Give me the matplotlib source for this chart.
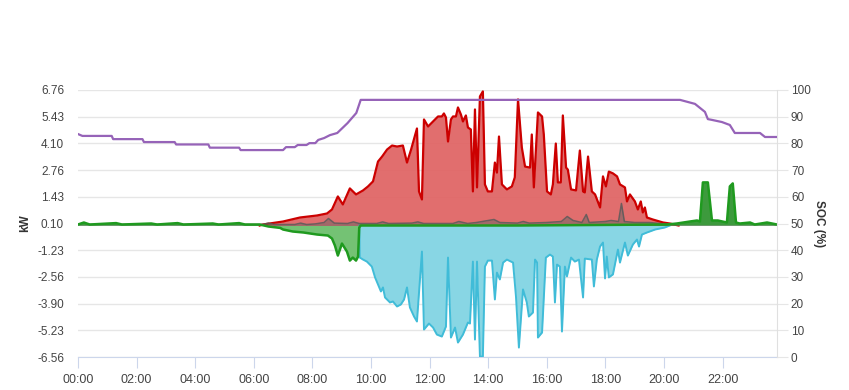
import matplotlib
matplotlib.use("Agg")
import matplotlib.pyplot as plt
import numpy as np

plt.rcParams["font.family"] = ["Liberation Sans", "DejaVu Sans"]

# time in hours of day, power in kW, soc in %
solar_h = [6.2, 6.31, 7.00, 7.58, 8.16, 8.50, 8.67, 8.87, 9.04, 9.28, 9.49, 9.73, 9.90, 10.07, 10.24,
           10.38, 10.55, 10.72, 10.89, 11.09, 11.23, 11.37, 11.57, 11.64, 11.74, 11.81, 11.95, 12.12,
           12.29, 12.42, 12.49, 12.56, 12.63, 12.73, 12.80, 12.90, 12.97, 13.07, 13.14, 13.24, 13.31,
           13.41, 13.48, 13.55, 13.62, 13.72, 13.82, 13.89, 13.99, 14.13, 14.23, 14.30, 14.37, 14.47,
           14.64, 14.81, 14.91, 15.02, 15.15, 15.26, 15.43, 15.49, 15.56, 15.70, 15.84, 15.90, 16.01,
           16.14, 16.21, 16.31, 16.38, 16.48, 16.55, 16.66, 16.72, 16.83, 17.00, 17.13, 17.24, 17.30,
           17.41, 17.54, 17.65, 17.82, 17.92, 18.02, 18.12, 18.26, 18.40, 18.50, 18.67, 18.74, 18.84,
           19.01, 19.11, 19.21, 19.28, 19.35, 19.42, 19.62, 19.97, 20.20, 20.5]
solar_kw = [0.0, 0.05, 0.20, 0.40, 0.50, 0.60, 0.80, 1.45, 1.05, 1.85, 1.55, 1.75, 1.95, 2.20, 3.19,
            3.44, 3.79, 3.99, 3.94, 3.99, 3.14, 3.79, 4.84, 1.70, 1.30, 5.29, 4.94, 5.19,
            5.44, 5.44, 5.59, 5.39, 4.19, 5.29, 5.44, 5.44, 5.89, 5.54, 5.19, 5.49, 4.89,
            4.79, 1.70, 5.79, 1.90, 6.44, 6.69, 2.05, 1.70, 1.70, 3.14, 2.64, 4.44, 2.05,
            1.80, 1.95, 2.40, 6.29, 3.89, 2.94, 2.89, 4.54, 1.90, 5.64, 5.44, 4.54, 1.70,
            1.55, 2.05, 4.09, 2.15, 2.15, 5.49, 2.89, 2.79, 1.80, 1.75, 3.74, 1.70, 1.65,
            3.44, 1.70, 1.55, 0.90, 2.45, 1.95, 2.69, 2.60, 2.45, 2.05, 1.90, 1.20, 1.55,
            1.20, 0.80, 1.20, 0.65, 0.90, 0.40, 0.30, 0.15, 0.10, 0.0]

grid_h = [9.60, 9.62, 9.73, 9.86, 10.03, 10.14, 10.24, 10.34, 10.41, 10.48, 10.65, 10.75, 10.89, 11.02,
          11.13, 11.23, 11.33, 11.47, 11.57, 11.74, 11.81, 11.98, 12.12, 12.25, 12.42, 12.56, 12.63,
          12.73, 12.87, 12.97, 13.14, 13.31, 13.38, 13.48, 13.55, 13.62, 13.72, 13.82, 13.89, 13.99,
          14.13, 14.23, 14.30, 14.40, 14.51, 14.64, 14.85, 14.95, 15.05, 15.19, 15.32, 15.39, 15.53,
          15.60, 15.67, 15.70, 15.84, 15.97, 16.11, 16.21, 16.28, 16.35, 16.45, 16.52, 16.62, 16.69,
          16.83, 16.96, 17.10, 17.24, 17.30, 17.54, 17.61, 17.71, 17.82, 17.92, 17.99, 18.05, 18.12,
          18.26, 18.43, 18.50, 18.67, 18.77, 18.94, 19.08, 19.15, 19.25, 19.42, 19.70, 20.03, 20.20]
grid_kw = [0.0, -1.60, -1.70, -1.80, -2.05, -2.59, -2.94, -3.29, -3.09, -3.59, -3.84, -3.79, -4.04, -3.94,
           -3.69, -3.09, -4.09, -4.54, -4.79, -1.30, -5.19, -4.89, -5.09, -5.44, -5.54, -5.04, -1.60,
           -5.59, -5.09, -5.84, -5.44, -4.84, -4.89, -1.80, -5.69, -1.80, -6.54, -6.54, -2.05, -1.75,
           -1.75, -3.69, -2.35, -2.69, -1.85, -1.70, -1.85, -3.54, -6.09, -3.19, -3.84, -4.54, -4.34,
           -1.70, -1.85, -5.59, -5.34, -1.60, -1.45, -1.55, -3.84, -1.95, -2.05, -5.29, -2.05, -2.54,
           -1.60, -1.80, -1.70, -3.59, -1.65, -1.70, -3.04, -1.70, -1.05, -0.85, -2.64, -1.55, -2.59,
           -2.44, -1.20, -1.85, -0.85, -1.50, -0.95, -0.70, -1.05, -0.45, -0.35, -0.20, -0.10, 0.0]

battery_h = [0.0, 0.2, 0.4, 1.3, 1.5, 2.5, 2.7, 3.4, 3.6, 4.6, 4.8, 5.5, 5.7, 6.2, 6.5, 6.9, 7.0, 7.33,
             7.7, 8.16, 8.53, 8.67, 8.77, 8.87, 9.01, 9.18, 9.28, 9.38, 9.49, 9.56, 9.60, 9.65, 12.0,
             15.0, 20.1, 20.44, 20.89, 21.13, 21.23, 21.33, 21.50, 21.64, 21.84, 22.15, 22.25, 22.35,
             22.46, 22.59, 22.94, 23.1, 23.52, 23.86]
battery_kw = [0.05, 0.15, 0.05, 0.12, 0.05, 0.10, 0.05, 0.12, 0.05, 0.10, 0.05, 0.12, 0.05, 0.05, -0.05,
              -0.12, -0.20, -0.30, -0.35, -0.45, -0.50, -0.65, -1.00, -1.50, -0.90, -1.30, -1.75, -1.60,
              -1.75, -1.55, -0.10, 0.0, 0.0, 0.0, 0.05, 0.10, 0.20, 0.25, 0.20, 2.15, 2.15, 0.25, 0.25,
              0.15, 1.95, 2.10, 0.15, 0.10, 0.15, 0.05, 0.15, 0.05]

load_h = [0.0, 6.3, 6.5, 6.7, 7.4, 7.6, 7.8, 8.1, 8.4, 8.55, 8.75, 9.2, 9.4, 9.6, 10.2, 10.4, 10.6, 11.4,
          11.6, 11.8, 12.8, 13.0, 13.3, 13.6, 14.0, 14.2, 14.4, 15.0, 15.2, 15.4, 16.0, 16.5, 16.7, 16.9,
          17.2, 17.35, 17.45, 18.0, 18.2, 18.45, 18.55, 18.65, 19.0, 19.5, 20.0, 20.5, 23.86]
load_kw = [0.05, 0.05, 0.12, 0.05, 0.05, 0.12, 0.05, 0.08, 0.15, 0.35, 0.12, 0.10, 0.18, 0.10, 0.10, 0.18,
           0.10, 0.12, 0.18, 0.10, 0.10, 0.20, 0.10, 0.15, 0.25, 0.30, 0.15, 0.12, 0.20, 0.12, 0.15, 0.20,
           0.45, 0.25, 0.15, 0.55, 0.15, 0.20, 0.25, 0.20, 1.10, 0.20, 0.15, 0.15, 0.08, 0.05, 0.05]

soc_h = [0.0, 0.15, 1.15, 1.2, 2.2, 2.25, 3.3, 3.35, 4.45, 4.5, 5.5, 5.55, 7.0, 7.1, 7.4, 7.5, 7.8, 7.9,
         8.1, 8.2, 8.4, 8.6, 8.85, 9.2, 9.5, 9.65, 20.55, 21.06, 21.40, 21.50, 21.64, 21.98, 22.25,
         22.42, 23.28, 23.45, 23.86]
soc_pct = [83.5, 82.8, 82.8, 81.6, 81.6, 80.5, 80.5, 79.6, 79.6, 78.4, 78.4, 77.5, 77.5, 78.6, 78.6,
           79.4, 79.4, 80.1, 80.1, 81.3, 82.0, 83.1, 83.9, 87.6, 91.4, 96.3, 96.3, 94.8, 91.8, 89.1,
           88.8, 88.0, 86.9, 83.9, 83.9, 82.4, 82.4]

kw_ticks = [6.76, 5.43, 4.10, 2.76, 1.43, 0.10, -1.23, -2.56, -3.90, -5.23, -6.56]
hour_ticks = list(range(0, 24, 2))

fig = plt.figure(figsize=(8.49, 3.9), dpi=100)
ax = fig.add_axes([78 / 849, 33 / 390, 699 / 849, 267 / 390])
ax2 = ax.twinx()

ax.fill_between(solar_h, solar_kw, color="#e06666", alpha=0.95, lw=0, zorder=2)
ax.plot(solar_h, solar_kw, color="#cc0000", lw=1.6, zorder=3)
ax.fill_between(grid_h, grid_kw, color="#88d6e4", lw=0, zorder=2)
ax.plot(grid_h, grid_kw, color="#40bcd8", lw=1.4, zorder=3)
ax.fill_between(load_h, load_kw, color="#666666", alpha=0.5, lw=0, zorder=4)
ax.plot(load_h, load_kw, color="#5a5a5a", lw=1.1, alpha=0.85, zorder=4)
b = np.array(battery_kw)
ax.fill_between(battery_h, b, where=b <= 0, interpolate=True, color="#74c274", lw=0, zorder=4)
ax.fill_between(battery_h, b, where=b >= 0, interpolate=True, color="#3d9a3d", lw=0, zorder=4)
ax.plot(battery_h, battery_kw, color="#1f9a1f", lw=1.8, zorder=5)

ax2.plot(soc_h, soc_pct, color="#9663b8", lw=1.6, zorder=6)

ax.set_xlim(0, 23.86)
ax.set_ylim(-6.56, 6.76)
ax2.set_ylim(0, 100)
ax.set_yticks(kw_ticks)
ax.set_yticklabels([f"{v:.2f}" for v in kw_ticks])
ax2.set_yticks(range(0, 101, 10))
ax.set_xticks(hour_ticks)
ax.set_xticklabels([f"{h:02d}:00" for h in hour_ticks], family=["Liberation Sans Narrow", "Liberation Sans"])

ax.grid(axis="y", color="#e6e6e6", lw=1)
ax.set_axisbelow(True)
for s in ["top", "left"]:
    ax.spines[s].set_visible(False)
    ax2.spines[s].set_visible(False)
ax.spines["right"].set_visible(False)
ax2.spines["bottom"].set_visible(False)
ax.spines["bottom"].set_color("#ccd6eb")
ax2.spines["right"].set_color("#e0e0e0")

ax.tick_params(axis="y", length=0, labelsize=8.5, labelcolor="#444444", pad=10)
ax.tick_params(axis="x", length=8, color="#ccd6eb", labelsize=9, labelcolor="#444444", pad=4)
ax2.tick_params(axis="y", length=8, color="#e6e6e6", labelsize=8.5, labelcolor="#444444", pad=2)

ax.set_ylabel("kW", fontsize=8.5, fontweight="bold", color="#333333", labelpad=4)
ax2.set_ylabel("SOC (%)", fontsize=8.5, fontweight="bold", color="#333333", rotation=-90, labelpad=10)

fig.savefig("out.png", dpi=100)
